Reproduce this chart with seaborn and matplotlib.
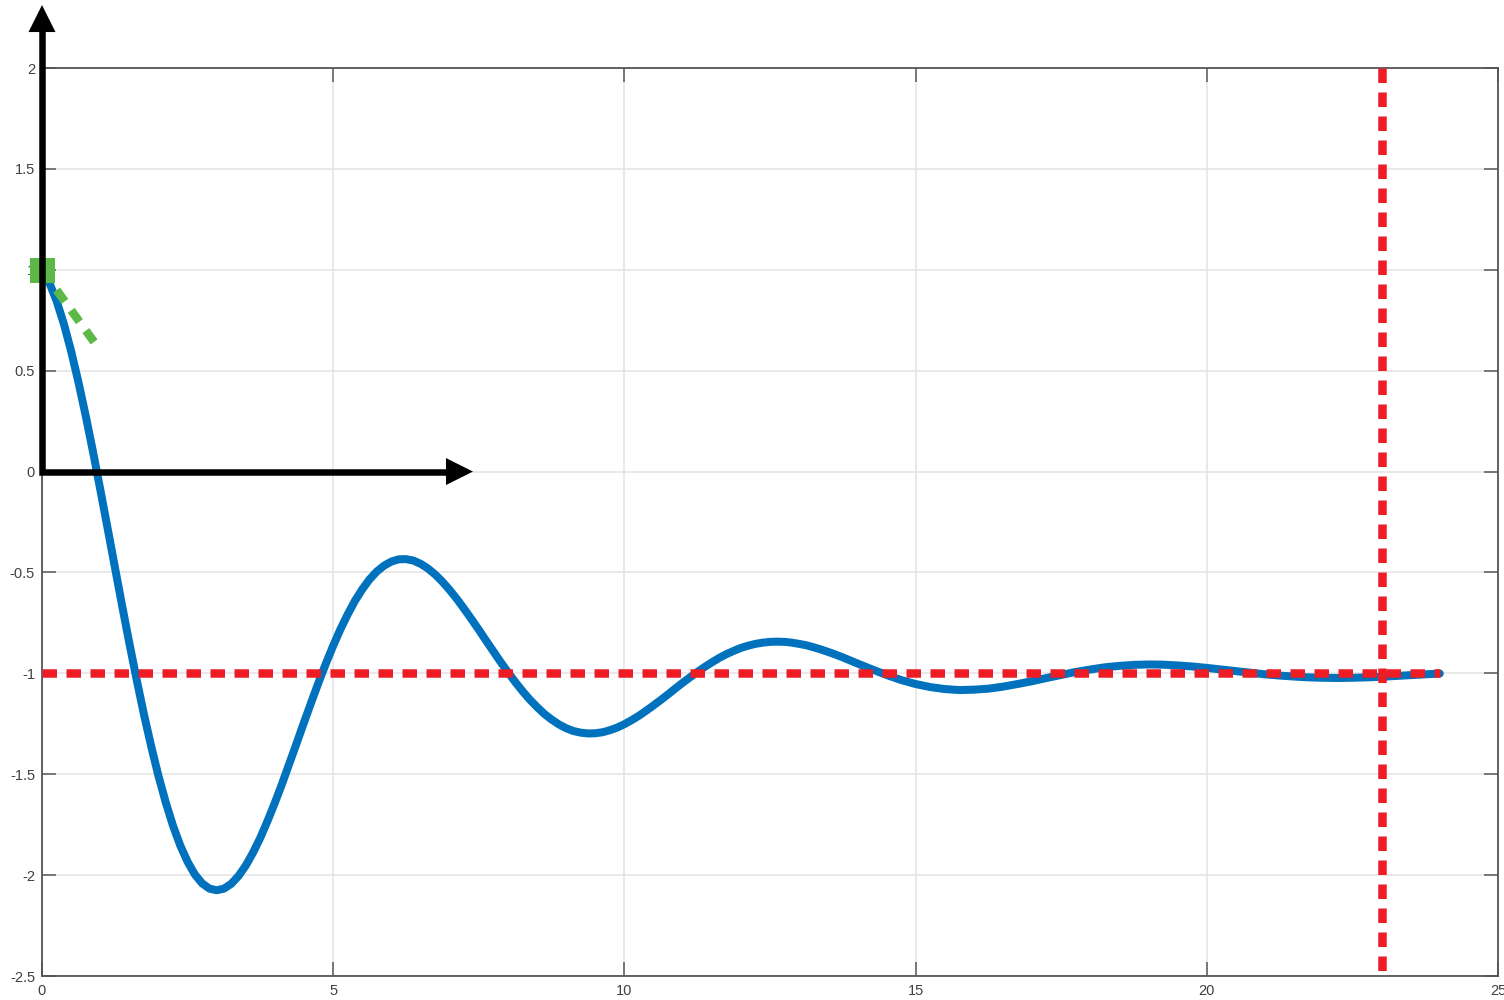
import matplotlib
matplotlib.use("Agg")
import matplotlib.pyplot as plt
import pandas as pd
import seaborn as sns

# Damped response: finer sampling over the large swings, coarser on the tail
time = [
    0.0, 0.125, 0.25, 0.375, 0.5, 0.625, 0.75, 0.875, 1.0, 1.125,
    1.25, 1.375, 1.5, 1.625, 1.75, 1.875, 2.0, 2.125, 2.25, 2.375,
    2.5, 2.625, 2.75, 2.875, 3.0, 3.125, 3.25, 3.375, 3.5, 3.625,
    3.75, 3.875, 4.0, 4.125, 4.25, 4.375, 4.5, 4.625, 4.75, 4.875,
    5.0, 5.125, 5.25, 5.375, 5.5, 5.625, 5.75, 5.875, 6.0, 6.125,
    6.25, 6.375, 6.5, 6.625, 6.75, 6.875, 7.0, 7.125, 7.25, 7.375,
    7.5, 7.625, 7.75, 7.875, 8.0, 8.125, 8.25, 8.375, 8.5, 8.625,
    8.75, 8.875, 9.0, 9.125, 9.25, 9.375, 9.5, 9.625, 9.75, 9.875,
    10.0, 10.125, 10.25, 10.375, 10.5, 10.625, 10.75, 10.875, 11.0, 11.125,
    11.25, 11.375, 11.5, 11.625, 11.75, 11.875, 12.0, 12.125, 12.25, 12.375,
    12.5, 12.625, 12.75, 12.875, 13.0, 13.125, 13.25, 13.375, 13.5, 13.625,
    13.75, 13.875, 14.0, 14.25, 14.5, 14.75, 15.0, 15.25, 15.5, 15.75,
    16.0, 16.25, 16.5, 16.75, 17.0, 17.25, 17.5, 17.75, 18.0, 18.25,
    18.5, 18.75, 19.0, 19.25, 19.5, 19.75, 20.0, 20.25, 20.5, 20.75,
    21.0, 21.25, 21.5, 21.75, 22.0, 22.25, 22.5, 22.75, 23.0, 23.25,
    23.5, 23.75, 24.0,
]
response = [
    1.000, 0.936, 0.846, 0.732, 0.597, 0.444, 0.277, 0.099, -0.088, -0.279,
    -0.473, -0.664, -0.851, -1.031, -1.203, -1.362, -1.509, -1.640, -1.756, -1.854,
    -1.934, -1.997, -2.041, -2.067, -2.075, -2.067, -2.043, -2.004, -1.952, -1.888,
    -1.814, -1.730, -1.640, -1.545, -1.445, -1.344, -1.242, -1.142, -1.044, -0.951,
    -0.863, -0.781, -0.707, -0.640, -0.583, -0.534, -0.495, -0.466, -0.446, -0.435,
    -0.434, -0.441, -0.457, -0.480, -0.510, -0.546, -0.587, -0.632, -0.681, -0.732,
    -0.784, -0.838, -0.891, -0.944, -0.994, -1.043, -1.088, -1.130, -1.167, -1.201,
    -1.229, -1.253, -1.272, -1.286, -1.294, -1.298, -1.297, -1.292, -1.282, -1.269,
    -1.252, -1.232, -1.210, -1.185, -1.159, -1.132, -1.104, -1.075, -1.047, -1.020,
    -0.994, -0.969, -0.946, -0.924, -0.905, -0.889, -0.874, -0.863, -0.854, -0.848,
    -0.844, -0.843, -0.844, -0.848, -0.854, -0.861, -0.871, -0.882, -0.894, -0.907,
    -0.921, -0.936, -0.951, -0.980, -1.008, -1.033, -1.053, -1.068, -1.078, -1.083,
    -1.081, -1.076, -1.066, -1.053, -1.039, -1.023, -1.008, -0.993, -0.981, -0.970,
    -0.963, -0.958, -0.956, -0.957, -0.961, -0.966, -0.973, -0.981, -0.989, -0.997,
    -1.005, -1.011, -1.016, -1.020, -1.022, -1.023, -1.022, -1.020, -1.017, -1.013,
    -1.009, -1.005, -1.001,
]

final_value = -1.0          # steady-state level
t_end = 24.0                # end of the simulated interval
t_settle = 23.0             # settling-time marker

# Initial-slope tangent
tangent_t = [0.0, 0.95]
tangent_y = [1.0, 0.62]

# Coordinate-axis arrows
axis_arrow_x = 7.40
axis_arrow_y = 2.312

x_ticks = [0, 5, 10, 15, 20, 25]
y_ticks = [-2.5, -2, -1.5, -1, -0.5, 0, 0.5, 1, 1.5, 2]
x_tick_labels = ["0", "5", "10", "15", "20", "25"]
y_tick_labels = ["-2.5", "-2", "-1.5", "-1", "-0.5", "0", "0.5", "1", "1.5", "2"]

sns.set_theme(style="whitegrid")
plt.rcParams["font.family"] = ["Liberation Sans", "DejaVu Sans"]
plt.rcParams["lines.scale_dashes"] = False

DPI = 100
fig = plt.figure(figsize=(15.04, 10.0), dpi=DPI)
ax = fig.add_axes([42 / 1504, 24 / 1000, 1456 / 1504, 908 / 1000])

px = 72.0 / DPI  # one pixel in points

df = pd.DataFrame({"t": time, "y": response})
sns.lineplot(data=df, x="t", y="y", ax=ax, color="#0072BD", lw=8 * px,
             estimator=None, sort=False, zorder=3,
             solid_joinstyle="round")

# Steady-state level and settling time
ax.plot([0.0, t_end], [final_value, final_value], color="#EE1C25",
        lw=8.5 * px, dashes=(14.5 * px, 9.5 * px), zorder=4)
ax.plot([t_settle, t_settle], [2.0, -2.5], color="#EE1C25",
        lw=8.5 * px, dashes=(14.5 * px, 9.5 * px), zorder=4)

# Tangent at t = 0
ax.plot(tangent_t, tangent_y, color="#5DB847", lw=8.5 * px,
        dashes=(14 * px, 11 * px), zorder=5, clip_on=False)
ax.plot([tangent_t[0]], [tangent_y[0]], marker="s", ms=25 * px,
        color="#5DB847", mew=0, zorder=5, clip_on=False)

# Coordinate axes drawn as arrows from the origin
ax.plot([0, 0, axis_arrow_x - 0.3], [axis_arrow_y - 0.1, 0, 0], color="black",
        lw=6.5 * px, solid_joinstyle="miter", solid_capstyle="butt",
        zorder=6, clip_on=False)
head = dict(arrowstyle="-|>,head_length=0.4,head_width=0.2",
            mutation_scale=27 * px / 0.4, lw=0, color="black",
            shrinkA=0, shrinkB=0)
ax.annotate("", xy=(0, axis_arrow_y), xytext=(0, 1.8),
            arrowprops=head, annotation_clip=False, zorder=7)
ax.annotate("", xy=(axis_arrow_x, 0), xytext=(6.0, 0),
            arrowprops=head, annotation_clip=False, zorder=7)

ax.set_xlim(0, 25)
ax.set_ylim(-2.5, 2)
ax.set_xticks(x_ticks, x_tick_labels)
ax.set_yticks(y_ticks, y_tick_labels)
ax.set_xlabel("")
ax.set_ylabel("")

ax.grid(True, color="#E3E3E3", lw=1.5 * px)
ax.set_axisbelow(True)
ax.tick_params(direction="in", length=14 * px, width=1.5 * px, color="#555555",
               labelsize=10.5, labelcolor="#404040",
               top=True, right=True, bottom=True, left=True)
ax.tick_params(axis="x", pad=5.5)
ax.tick_params(axis="y", pad=5.0)
for s in ax.spines.values():
    s.set_visible(True)
    s.set_color("#555555")
    s.set_linewidth(1.8 * px)

fig.savefig("out.png", dpi=DPI)
